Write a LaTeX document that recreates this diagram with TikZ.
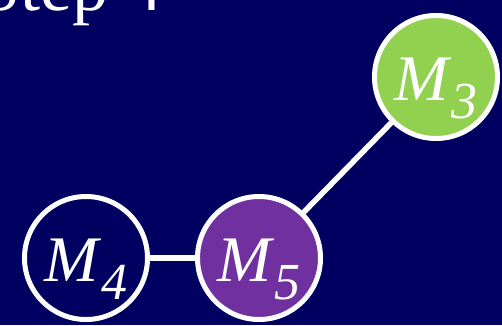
\documentclass[tikz,border=0pt]{standalone}
\usepackage{fontspec}
\setmainfont{Liberation Serif}
\usetikzlibrary{positioning}
\definecolor{stBack}{HTML}{000060}
\definecolor{stGreen}{HTML}{92D050}
\definecolor{stPurple}{HTML}{7030A0}
\newcommand{\mlab}[1]{\textit{M}\raisebox{-18pt}{\fontsize{52}{52}\selectfont\itshape #1}}
\tikzset{
  mnode/.style={
    circle, draw=white, line width=5pt, minimum size=123pt, inner sep=0pt,
    fill=stBack, text=white
  },
  mlabel/.style={text=white, font=\fontsize{65}{70}\selectfont, yshift=-11pt, inner sep=0pt},
  mgreen/.style={mnode, fill=stGreen},
  mpurple/.style={mnode, fill=stPurple},
  link/.style={draw=white, line width=5.5pt},
  title/.style={text=white, font=\fontsize{72}{80}\selectfont, inner sep=0pt, anchor=base west}
}
\begin{document}
\begin{tikzpicture}[x=1pt, y=1pt]
  \useasboundingbox (0,0) rectangle (502,325);
  \fill[stBack] (0,0) rectangle (502,325);
  \node[title] (step) at (-20,315) {Step 4};
  \node[mnode, label={[mlabel]center:\mlab{4}}] (m4) at (86,67) {};
  \node[mpurple, right=45pt of m4, label={[mlabel]center:\mlab{5}}] (m5) {};
  \node[mgreen, label={[mlabel]center:\mlab{3}}] (m3) at (436,248) {};
  \draw[link] (m4) -- (m5);
  \draw[link] (m5) -- (m3);
\end{tikzpicture}
\end{document}
